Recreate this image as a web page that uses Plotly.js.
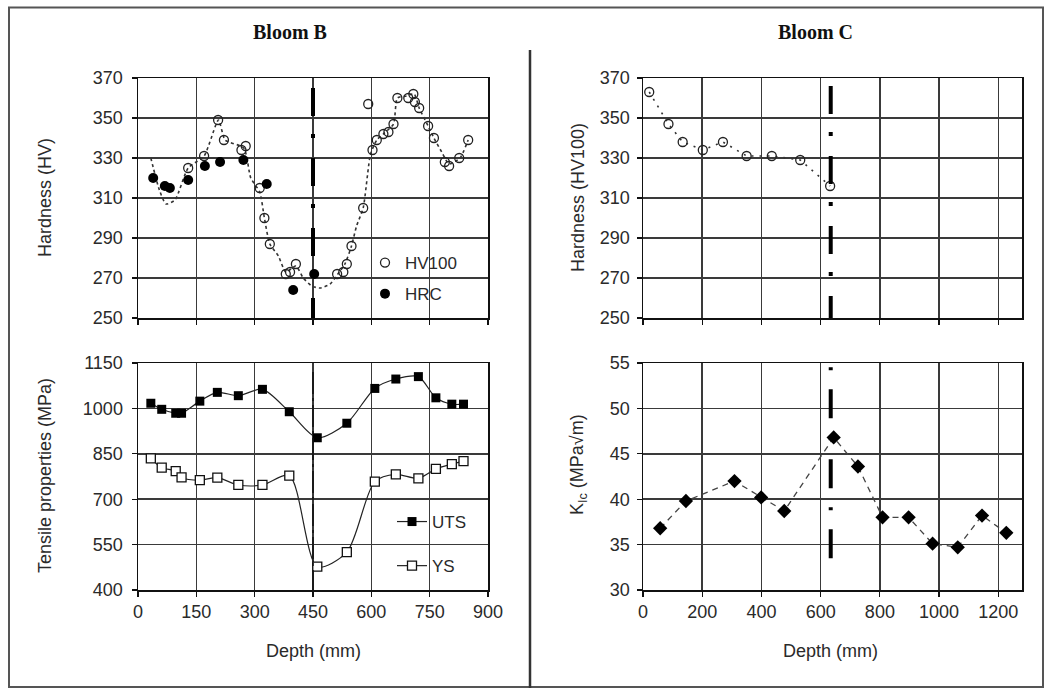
<!DOCTYPE html>
<html><head><meta charset="utf-8">
<script src="https://cdn.plot.ly/plotly-3.0.1.min.js"></script>
<style>html,body{margin:0;padding:0;background:#fff}#chart{width:1050px;height:688px}</style>
</head><body><div id="chart"></div>
<script>
// ---------- Bloom B : hardness ----------
const hv100X = [129, 170, 206, 221, 266, 277, 313, 325, 339, 380, 391, 406, 512, 528, 537, 549, 579, 592, 603, 614, 631, 644, 657, 667, 695, 708, 712, 723, 746, 761, 789, 800, 826, 849];
const hv100Y = [325, 331, 349, 339, 334, 336, 315, 300, 287, 272, 273, 277, 272, 273, 277, 286, 305, 357, 334, 339, 342, 343, 347, 360, 360, 362, 358, 355, 346, 340, 328, 326, 330, 339];
// dotted smoothed curve drawn through the HV100 data
const hv100CurveX = [33, 55, 72, 95, 129, 170, 207, 224, 272, 290, 313, 325, 339, 361, 380, 406, 425, 447, 468, 494, 514, 532, 549, 562, 579, 598, 614, 631, 657, 667, 690, 710, 723, 746, 761, 781, 800, 828, 849];
const hv100CurveY = [330, 314, 307, 309, 325, 331, 349, 339, 335, 320, 313, 300, 287, 281, 273, 276, 270, 266, 265, 267, 272, 277, 286, 296, 305, 332, 339, 342, 347, 360, 361, 362, 355, 346, 340, 333, 327, 330, 339];
const hrcX = [39, 69, 82, 129, 172, 211, 271, 331, 399, 453];
const hrcY = [320, 316, 315, 319, 326, 328, 329, 317, 264, 272];

// ---------- Bloom B : tensile ----------
const tensileX = [33, 61, 97, 112, 159, 204, 258, 320, 389, 461, 537, 609, 663, 721, 766, 807, 837];
const utsY = [1017, 997, 984, 984, 1024, 1053, 1042, 1063, 989, 903, 951, 1066, 1097, 1105, 1035, 1014, 1014];
const ysY  = [835, 804, 793, 772, 763, 771, 747, 747, 778, 477, 525, 758, 782, 769, 800, 816, 826];

// ---------- Bloom C ----------
const hvCX = [21, 86, 134, 202, 270, 350, 435, 531, 632];
const hvCY = [363, 347, 338, 334, 338, 331, 331, 329, 316];
const kicX = [58, 145, 309, 399, 477, 644, 726, 809, 897, 978, 1063, 1145, 1227];
const kicY = [36.8, 39.8, 42.0, 40.2, 38.7, 46.8, 43.6, 38.0, 38.0, 35.1, 34.7, 38.2, 36.3];

// boundary depths (dash-dot lines)
const boundaryB = 450;
const boundaryC = 634;

// ticks
const xTicksB = [0, 150, 300, 450, 600, 750, 900];
const xTicksC = [0, 200, 400, 600, 800, 1000, 1200];
const yTicksHV = [250, 270, 290, 310, 330, 350, 370];
const yTicksTensile = [400, 550, 700, 850, 1000, 1150];
const yTicksK = [30, 35, 40, 45, 50, 55];

// ---------- styling ----------
const W = 1050, H = 688;
const px = v => v / W, py = v => 1 - v / H;
const SANS = 'Liberation Sans, Arial, sans-serif';
const tickFont = {family: SANS, size: 18, color: '#2a2a2a'};
const gridC = '#3a3a3a';

function axis(extra) {
  return Object.assign({
    showgrid: true, gridcolor: gridC, gridwidth: 1.5,
    showline: true, linecolor: '#111', linewidth: 1.5, mirror: true,
    ticks: 'outside', ticklen: 5, tickcolor: '#111', tickwidth: 1.2,
    tickfont: tickFont, zeroline: false, tickmode: 'array', fixedrange: true
  }, extra);
}

const domL = [px(138), px(488)], domR = [px(643), px(1022)];
const domT = [py(318), py(78)], domB = [py(590), py(363)];

const traces = [
  {x: hv100CurveX, y: hv100CurveY, xaxis: 'x', yaxis: 'y', mode: 'lines', showlegend: false, hoverinfo: 'skip',
   line: {color: '#333', width: 1.6, dash: 'dot', shape: 'spline', smoothing: 0.6}},
  {x: hv100X, y: hv100Y, xaxis: 'x', yaxis: 'y', mode: 'markers', name: 'HV100', legend: 'legend', legendgroup: 'a',
   marker: {symbol: 'circle-open', size: 9, color: '#222', line: {width: 1.3}}},
  {x: hrcX, y: hrcY, xaxis: 'x', yaxis: 'y', mode: 'markers', name: 'HRC', legend: 'legend', legendgroup: 'b',
   marker: {symbol: 'circle', size: 10, color: '#000'}},
  {x: tensileX, y: utsY, xaxis: 'x2', yaxis: 'y2', mode: 'lines+markers', name: 'UTS', legend: 'legend2', legendgroup: 'c',
   line: {color: '#222', width: 1.2, shape: 'spline', smoothing: 0.8},
   marker: {symbol: 'square', size: 9, color: '#000'}},
  {x: tensileX, y: ysY, xaxis: 'x2', yaxis: 'y2', mode: 'lines+markers', name: 'YS', legend: 'legend2', legendgroup: 'd',
   line: {color: '#222', width: 1.2, shape: 'spline', smoothing: 0.8},
   marker: {symbol: 'square', size: 9, color: '#fff', line: {color: '#111', width: 1.3}}},
  {x: hvCX, y: hvCY, xaxis: 'x3', yaxis: 'y3', mode: 'lines+markers', showlegend: false,
   line: {color: '#333', width: 1.6, dash: '2px,6px'},
   marker: {symbol: 'circle-open', size: 9, color: '#222', line: {width: 1.3}}},
  {x: kicX, y: kicY, xaxis: 'x4', yaxis: 'y4', mode: 'lines+markers', showlegend: false,
   line: {color: '#444', width: 1.3, dash: '6px,5px'},
   marker: {symbol: 'diamond', size: 11, color: '#000'}}
];

const dashDot = '28px,18px,4px,20px';
const shapes = [
  // outer frame & divider
  {type: 'rect', xref: 'paper', yref: 'paper', x0: px(9), x1: px(1043), y0: py(687), y1: py(7.5), line: {color: '#555', width: 2}},
  {type: 'line', xref: 'paper', yref: 'paper', x0: px(530), x1: px(530), y0: py(50), y1: py(688), line: {color: '#333', width: 2.5}},
  // white background behind the legends
  {type: 'rect', xref: 'x', yref: 'y', layer: 'below', x0: 606, x1: 900, y0: 250, y1: 290.5, fillcolor: '#fff', line: {width: 0}},
  {type: 'rect', xref: 'x2', yref: 'y2', layer: 'below', x0: 606, x1: 900, y0: 400, y1: 703, fillcolor: '#fff', line: {width: 0}},
  // boundary lines
  {type: 'line', xref: 'x', yref: 'y', x0: boundaryB, x1: boundaryB, y0: 365, y1: 250, line: {color: '#000', width: 4, dash: dashDot}},
  {type: 'line', xref: 'x2', yref: 'y2', x0: boundaryB, x1: boundaryB, y0: 1120, y1: 400, line: {color: '#111', width: 1.5, dash: '22px,4px,3px,4px'}},
  {type: 'line', xref: 'x3', yref: 'y3', x0: boundaryC, x1: boundaryC, y0: 366, y1: 250, line: {color: '#000', width: 4, dash: dashDot}},
  {type: 'line', xref: 'x4', yref: 'y4', x0: boundaryC, x1: boundaryC, y0: 33.5, y1: 55, line: {color: '#000', width: 4, dash: '29px,19px,3px,19px'}}
];

const titleFont = {family: 'Liberation Serif, Times New Roman, serif', size: 20, color: '#111', weight: 'bold'};
const labFont = {family: SANS, size: 18, color: '#2a2a2a'};
const ann = (text, x, y, font, extra) => Object.assign({text, x, y, xref: 'paper', yref: 'paper', showarrow: false,
  xanchor: 'center', yanchor: 'middle', font}, extra || {});

const annotations = [
  ann('Bloom B', px(290), py(32), titleFont),
  ann('Bloom C', px(815), py(32), titleFont),
  ann('Hardness (HV)', px(45), py(198), labFont, {textangle: -90}),
  ann('Tensile properties (MPa)', px(45), py(476), labFont, {textangle: -90}),
  ann('Hardness (HV100)', px(578), py(198), labFont, {textangle: -90}),
  ann('K<sub>Ic</sub> (MPa√m)', px(578), py(465), labFont, {textangle: -90}),
  ann('Depth (mm)', px(313), py(651), labFont),
  ann('Depth (mm)', px(830), py(651), labFont)
];

const legFont = {family: SANS, size: 17, color: '#2a2a2a'};
const layout = {
  width: W, height: H, margin: {l: 0, r: 0, t: 0, b: 0},
  paper_bgcolor: '#fff', plot_bgcolor: '#fff', showlegend: true,
  xaxis:  axis({domain: domL, anchor: 'y',  range: [0, 900], tickvals: xTicksB, showticklabels: false}),
  yaxis:  axis({domain: domT, anchor: 'x',  range: [250, 370], tickvals: yTicksHV, ticklabelstandoff: 5}),
  xaxis2: axis({domain: domL, anchor: 'y2', range: [0, 900], tickvals: xTicksB}),
  yaxis2: axis({domain: domB, anchor: 'x2', range: [400, 1150], tickvals: yTicksTensile, ticklabelstandoff: 5}),
  xaxis3: axis({domain: domR, anchor: 'y3', range: [0, 1280], tickvals: xTicksC, showticklabels: false}),
  yaxis3: axis({domain: domT, anchor: 'x3', range: [250, 370], tickvals: yTicksHV, ticklabelstandoff: 3}),
  xaxis4: axis({domain: domR, anchor: 'y4', range: [0, 1280], tickvals: xTicksC}),
  yaxis4: axis({domain: domB, anchor: 'x4', range: [30, 55], tickvals: yTicksK, ticklabelstandoff: 3}),
  legend:  {x: px(365), y: py(245), xanchor: 'left', yanchor: 'top', bgcolor: 'rgba(0,0,0,0)', borderwidth: 0,
            font: legFont, traceorder: 'grouped', tracegroupgap: 6},
  legend2: {x: px(392), y: py(504), xanchor: 'left', yanchor: 'top', bgcolor: 'rgba(0,0,0,0)', borderwidth: 0,
            font: legFont, traceorder: 'grouped', tracegroupgap: 19},
  shapes, annotations
};

Plotly.newPlot('chart', traces, layout, {staticPlot: true, displayModeBar: false});
</script>
</body></html>
